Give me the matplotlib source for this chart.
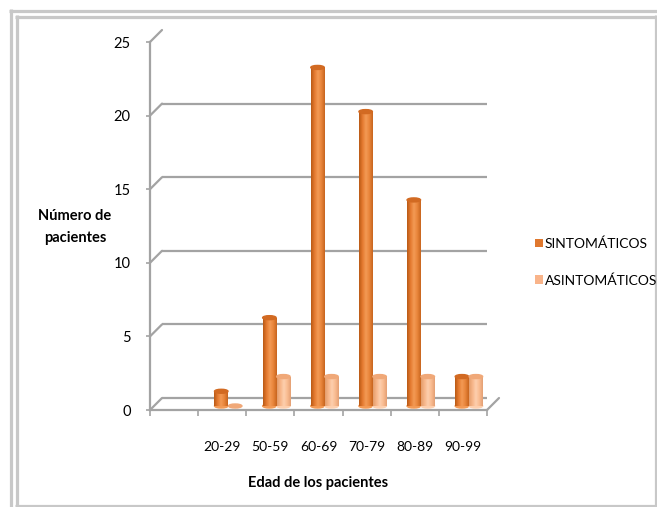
import numpy as np
import matplotlib
matplotlib.use("Agg")
import matplotlib.pyplot as plt
from matplotlib.transforms import ScaledTranslation
from matplotlib.patches import Ellipse, ConnectionPatch
from matplotlib.colors import LinearSegmentedColormap
from matplotlib.lines import Line2D

plt.rcParams['font.family'] = ['Lato', 'DejaVu Sans']

# first slot of the category axis is left empty
grupos = ["", "20-29", "50-59", "60-69", "70-79", "80-89", "90-99"]
sintomaticos = [0, 1, 6, 23, 20, 14, 2]
asintomaticos = [0, 0, 2, 2, 2, 2, 2]
series = ["SINTOMÁTICOS", "ASINTOMÁTICOS"]
yticks = [0, 5, 10, 15, 20, 25]

W, H, DPI = 657, 507, 100
fig = plt.figure(figsize=(W / DPI, H / DPI), dpi=DPI)
fig.patch.set_facecolor("white")

# plot area in pixels: x 150..487, y 410..42
ax = fig.add_axes([150 / W, 1 - 410 / H, 337 / W, 368 / H])
ax.set_xlim(0, len(grupos))
ax.set_ylim(0, 25)
ax.patch.set_alpha(0)

grid_c = "#a3a3a3"
back = ax.transData + ScaledTranslation(12 / DPI, 12 / DPI, fig.dpi_scale_trans)
mid = ax.transData + ScaledTranslation(6 / DPI, 4 / DPI, fig.dpi_scale_trans)

# back wall gridlines with the depth diagonals
for v in yticks:
    ax.plot([0, len(grupos)], [v, v], color=grid_c, lw=1.6, transform=back,
            solid_capstyle="butt", zorder=1)
    ax.add_artist(ConnectionPatch((0, v), (0, v), coordsA=ax.transData,
                                  coordsB=back, color=grid_c, lw=1.6, zorder=1))
ax.add_artist(ConnectionPatch((len(grupos), 0), (len(grupos), 0),
                              coordsA=ax.transData, coordsB=back,
                              color=grid_c, lw=1.6, zorder=1))

# spines and ticks
for s in ["top", "right"]:
    ax.spines[s].set_visible(False)
for s in ["left", "bottom"]:
    ax.spines[s].set_color(grid_c)
    ax.spines[s].set_linewidth(1.6)
ax.set_yticks(yticks)
ax.set_yticklabels([str(v) for v in yticks])
ax.tick_params(axis="y", length=3, width=1.2, color=grid_c, pad=11,
               labelsize=10.5)
ax.set_xticks(range(len(grupos) + 1))
ax.set_xticklabels([])
ax.tick_params(axis="x", which="major", length=4, width=1.2, color=grid_c,
               direction="out")
ax.set_xticks(np.arange(len(grupos)) + 0.5, minor=True)
ax.set_xticklabels(grupos, minor=True)
ax.tick_params(axis="x", which="minor", length=0, pad=22, labelsize=10)

cmaps = [
    LinearSegmentedColormap.from_list("s", ["#b95a15", "#e47a30", "#f39a55",
                                            "#e8843a", "#c8651e"]),
    LinearSegmentedColormap.from_list("a", ["#e39d6d", "#f7b68a", "#fdcfae",
                                            "#f9bb90", "#e4a074"]),
]
caps = ["#d26a22", "#f0a878"]
base = ["#e0782e", "#f9b48a"]

x = np.arange(len(grupos)) + 0.5
w = 0.28
grad = np.linspace(0, 1, 64).reshape(1, -1)
cap_h = 4 / 14.72
handles = []
for k, vals in enumerate([sintomaticos, asintomaticos]):
    xs = x + (k - 0.5) * 0.29
    bars = ax.bar(xs[1:], vals[1:], width=w, color=base[k], label=series[k],
                  zorder=3)
    handles.append(bars)
    for xc, v, rect in zip(xs[1:], vals[1:], bars):
        rect.set_transform(mid)
        if v > 0:
            im = ax.imshow(grad, cmap=cmaps[k], aspect="auto",
                           extent=(xc - w / 2, xc + w / 2, 0, v),
                           transform=mid, zorder=3.1)
            im.set_clip_path(rect)
            ax.add_patch(Ellipse((xc, 0), w, cap_h, transform=mid,
                                 color=cmaps[k](0.5), zorder=3.05))
        ax.add_patch(Ellipse((xc, v), w, cap_h, transform=mid,
                             color=caps[k], zorder=3.2))
ax.set_xlim(0, len(grupos))
ax.set_ylim(0, 25)

fig.legend(handles=handles, labels=series, loc="center left",
           bbox_to_anchor=(522 / W, 1 - 262 / H), frameon=False,
           handlelength=0.6, handleheight=0.6, handletextpad=0.15,
           labelspacing=1.75, fontsize=10)

fig.text(75 / W, 1 - 227 / H, "Número de\npacientes", ha="center",
         va="center", fontsize=10.5, fontweight="bold", linespacing=1.75)
fig.text(318 / W, 1 - 483 / H, "Edad de los pacientes", ha="center",
         va="center", fontsize=10.5, fontweight="bold")

# double page frame around the chart
fc = "#c8c8c8"
def frame(xs, ys, lw):
    fig.add_artist(Line2D([a / W for a in xs], [1 - b / H for b in ys],
                          color=fc, lw=lw, transform=fig.transFigure,
                          solid_capstyle="butt"))
frame([9, W], [10.5, 10.5], 2.3)
frame([10.5, 10.5], [9, H], 2.3)
frame([15, 655.5], [16.5, 16.5], 2.3)
frame([16.5, 16.5], [15, 506], 2.3)
frame([655.5, 655.5], [15, 506], 2.3)
frame([15, 657], [506, 506], 2.3)

fig.savefig("out.png", dpi=DPI)
